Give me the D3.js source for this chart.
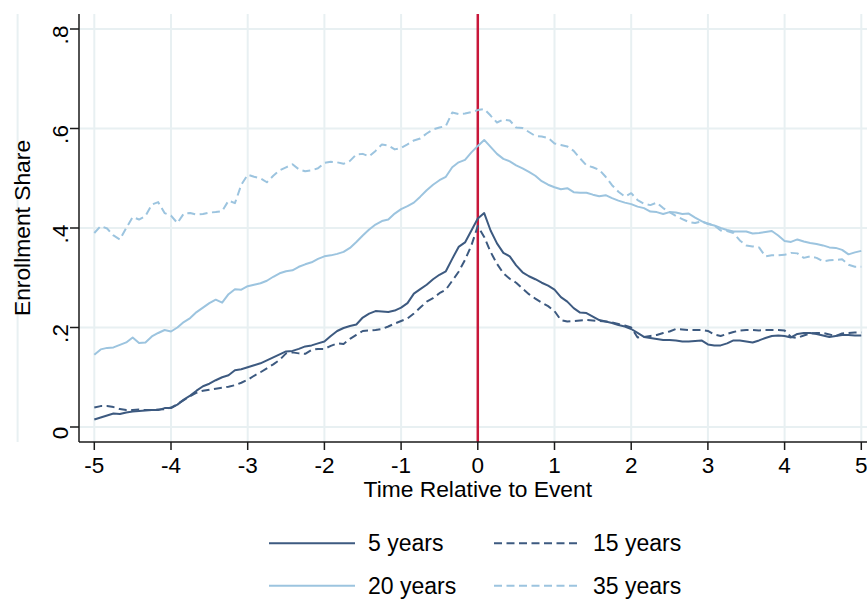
<!DOCTYPE html>
<html lang="en">
    <head>
        <meta charset="UTF-8">
        <title>Enrollment Share</title>
        <style>
            body { margin: 0; background: #fff; }
            text { font-family: "Liberation Sans", Arial, sans-serif; fill: #000; }
            .grid { stroke: #e8f0f2; stroke-width: 2; }
            .axis { stroke: #1a1a1a; stroke-width: 1.5; }
        </style>
    </head>
    <body>
        <div id="chart"></div>
        <script src="https://d3js.org/d3.v7.min.js"></script>
        <script>
            // months relative to the event, -60 .. 60
            const months = d3.range(-60, 61);

            const xTicks = [-5, -4, -3, -2, -1, 0, 1, 2, 3, 4, 5];
            const yTicks = [0, 0.2, 0.4, 0.6, 0.8];
            const yTickLabels = ["0", ".2", ".4", ".6", ".8"];
            const xGrid = [-6, -5, -4, -3, -2, -1, 1, 2, 3, 4, 5];

            const years5 = [
                0.015, 0.019, 0.023, 0.027, 0.026, 0.029, 0.031, 0.032, 0.033, 0.034, 0.034, 0.038,
                0.038, 0.045, 0.055, 0.063, 0.073, 0.082, 0.087, 0.094, 0.100, 0.104, 0.114, 0.116,
                0.120, 0.124, 0.128, 0.134, 0.140, 0.146, 0.152, 0.153, 0.157, 0.162, 0.164, 0.168,
                0.172, 0.183, 0.193, 0.199, 0.203, 0.206, 0.220, 0.228, 0.233, 0.232, 0.231, 0.234,
                0.240, 0.249, 0.268, 0.277, 0.286, 0.297, 0.306, 0.313, 0.338, 0.362, 0.371, 0.395,
                0.419, 0.430, 0.395, 0.369, 0.350, 0.343, 0.325, 0.311, 0.303, 0.297, 0.290, 0.284,
                0.276, 0.261, 0.252, 0.239, 0.230, 0.229, 0.222, 0.215, 0.212, 0.209, 0.205, 0.202,
                0.197, 0.189, 0.181, 0.179, 0.177, 0.175, 0.175, 0.174, 0.172, 0.172, 0.173, 0.174,
                0.166, 0.164, 0.164, 0.168, 0.174, 0.174, 0.172, 0.170, 0.174, 0.179, 0.183, 0.184,
                0.183, 0.180, 0.187, 0.189, 0.189, 0.187, 0.184, 0.181, 0.183, 0.185, 0.185, 0.184,
                0.184
            ];
            const years15 = [
                0.039, 0.042, 0.042, 0.040, 0.036, 0.034, 0.034, 0.035, 0.034, 0.034, 0.035, 0.036,
                0.039, 0.046, 0.054, 0.062, 0.069, 0.073, 0.075, 0.077, 0.079, 0.081, 0.084, 0.089,
                0.095, 0.103, 0.110, 0.118, 0.126, 0.135, 0.148, 0.150, 0.148, 0.147, 0.155, 0.157,
                0.157, 0.163, 0.168, 0.167, 0.177, 0.185, 0.193, 0.194, 0.195, 0.197, 0.202, 0.208,
                0.213, 0.218, 0.228, 0.240, 0.252, 0.259, 0.269, 0.276, 0.294, 0.312, 0.336, 0.365,
                0.404, 0.382, 0.352, 0.328, 0.309, 0.298, 0.290, 0.278, 0.267, 0.258, 0.250, 0.243,
                0.233, 0.215, 0.212, 0.213, 0.214, 0.215, 0.214, 0.213, 0.212, 0.210, 0.207, 0.204,
                0.200, 0.180, 0.181, 0.183, 0.185, 0.189, 0.192, 0.197, 0.196, 0.195, 0.195, 0.195,
                0.193, 0.186, 0.183, 0.187, 0.191, 0.194, 0.195, 0.195, 0.194, 0.195, 0.195, 0.195,
                0.194, 0.181, 0.179, 0.184, 0.188, 0.189, 0.189, 0.186, 0.183, 0.188, 0.189, 0.190,
                0.190
            ];
            const years20 = [
                0.145, 0.156, 0.159, 0.160, 0.165, 0.170, 0.180, 0.169, 0.170, 0.182, 0.189, 0.195,
                0.192, 0.200, 0.211, 0.219, 0.231, 0.240, 0.249, 0.256, 0.250, 0.267, 0.277, 0.276,
                0.283, 0.286, 0.289, 0.294, 0.302, 0.309, 0.313, 0.315, 0.322, 0.327, 0.331, 0.338,
                0.343, 0.345, 0.348, 0.352, 0.360, 0.372, 0.385, 0.397, 0.407, 0.414, 0.417, 0.429,
                0.438, 0.444, 0.451, 0.463, 0.476, 0.487, 0.496, 0.503, 0.522, 0.532, 0.537, 0.552,
                0.565, 0.577, 0.563, 0.549, 0.539, 0.534, 0.526, 0.520, 0.513, 0.505, 0.494, 0.487,
                0.482, 0.478, 0.480, 0.472, 0.471, 0.471, 0.467, 0.464, 0.466, 0.460, 0.455, 0.451,
                0.448, 0.443, 0.440, 0.433, 0.432, 0.428, 0.432, 0.431, 0.428, 0.429, 0.421, 0.414,
                0.408, 0.405, 0.400, 0.396, 0.393, 0.393, 0.393, 0.389, 0.390, 0.392, 0.394, 0.385,
                0.374, 0.372, 0.377, 0.373, 0.370, 0.368, 0.365, 0.361, 0.360, 0.356, 0.347, 0.351,
                0.354
            ];
            const years35 = [
                0.390, 0.404, 0.399, 0.385, 0.377, 0.400, 0.422, 0.417, 0.424, 0.447, 0.452, 0.430,
                0.425, 0.410, 0.429, 0.430, 0.427, 0.428, 0.431, 0.432, 0.434, 0.455, 0.450, 0.487,
                0.507, 0.503, 0.500, 0.492, 0.505, 0.516, 0.522, 0.528, 0.518, 0.514, 0.516, 0.520,
                0.531, 0.533, 0.532, 0.529, 0.535, 0.548, 0.549, 0.544, 0.555, 0.568, 0.566, 0.558,
                0.561, 0.568, 0.576, 0.580, 0.590, 0.598, 0.602, 0.605, 0.632, 0.629, 0.630, 0.633,
                0.637, 0.639, 0.626, 0.612, 0.618, 0.616, 0.602, 0.601, 0.593, 0.585, 0.584, 0.581,
                0.570, 0.567, 0.564, 0.555, 0.540, 0.526, 0.522, 0.517, 0.503, 0.486, 0.473, 0.463,
                0.470, 0.456, 0.449, 0.446, 0.451, 0.440, 0.432, 0.424, 0.418, 0.412, 0.410, 0.413,
                0.409, 0.405, 0.395, 0.394, 0.390, 0.375, 0.365, 0.363, 0.361, 0.343, 0.345, 0.345,
                0.346, 0.350, 0.349, 0.340, 0.343, 0.340, 0.333, 0.335, 0.336, 0.337, 0.326, 0.322,
                0.322
            ];

            const seriesNames = ["5 years", "15 years", "20 years", "35 years"];
            const seriesValues = [years5, years15, years20, years35];
            const seriesColors = ["#3d5a80", "#3d5a80", "#9cc4df", "#9cc4df"];
            const seriesDashed = [false, true, false, true];

            const width = 867, height = 599;
            const plotTop = 14, plotBottom = 442, plotLeft = 79;

            const svg = d3.select("#chart").append("svg")
                .attr("width", width)
                .attr("height", height);

            const x = d3.scaleLinear().domain([-5, 5]).range([94.3, 861.3]);
            const y = d3.scaleLinear().domain([0, 0.8]).range([427, 29]);

            // grid
            svg.append("g")
                .selectAll("line")
                .data(yTicks)
                .enter().append("line")
                .attr("class", "grid")
                .attr("x1", plotLeft).attr("x2", width)
                .attr("y1", d => y(d)).attr("y2", d => y(d));

            svg.append("g")
                .selectAll("line")
                .data(xGrid)
                .enter().append("line")
                .attr("class", "grid")
                .attr("x1", d => x(d)).attr("x2", d => x(d))
                .attr("y1", plotTop).attr("y2", plotBottom);

            // event line
            svg.append("line")
                .attr("x1", x(0)).attr("x2", x(0))
                .attr("y1", plotTop).attr("y2", plotBottom)
                .attr("stroke", "#c8173a")
                .attr("stroke-width", 2.5);

            // series
            const line = d3.line()
                .x((d, i) => x(months[i] / 12))
                .y(d => y(d));

            seriesValues.forEach((vals, i) => {
                svg.append("path")
                    .datum(vals)
                    .attr("d", line)
                    .attr("fill", "none")
                    .attr("stroke", seriesColors[i])
                    .attr("stroke-width", 2)
                    .attr("stroke-linejoin", "round")
                    .attr("stroke-dasharray", seriesDashed[i] ? "8,4.5" : null);
            });

            // axes
            svg.append("line").attr("class", "axis")
                .attr("x1", plotLeft).attr("x2", plotLeft)
                .attr("y1", plotTop).attr("y2", plotBottom);
            svg.append("line").attr("class", "axis")
                .attr("x1", plotLeft).attr("x2", width)
                .attr("y1", plotBottom).attr("y2", plotBottom);

            svg.append("g")
                .selectAll("line")
                .data(yTicks)
                .enter().append("line")
                .attr("class", "axis")
                .attr("x1", plotLeft - 9).attr("x2", plotLeft)
                .attr("y1", d => y(d)).attr("y2", d => y(d));

            svg.append("g")
                .selectAll("text")
                .data(yTicks)
                .enter().append("text")
                .attr("transform", d => `translate(68,${y(d) + 6}) rotate(-90)`)
                .attr("text-anchor", "middle")
                .style("font-size", "22.5px")
                .text((d, i) => yTickLabels[i]);

            svg.append("g")
                .selectAll("line")
                .data(xTicks)
                .enter().append("line")
                .attr("class", "axis")
                .attr("x1", d => x(d)).attr("x2", d => x(d))
                .attr("y1", plotBottom).attr("y2", plotBottom + 8);

            svg.append("g")
                .selectAll("text")
                .data(xTicks)
                .enter().append("text")
                .attr("x", d => x(d))
                .attr("y", 473)
                .attr("text-anchor", "middle")
                .style("font-size", "22.5px")
                .text(d => d);

            // axis titles
            svg.append("text")
                .attr("x", x(0))
                .attr("y", 497)
                .attr("text-anchor", "middle")
                .style("font-size", "22.8px")
                .text("Time Relative to Event");

            svg.append("text")
                .attr("transform", `translate(30,${(plotTop + plotBottom) / 2}) rotate(-90)`)
                .attr("text-anchor", "middle")
                .style("font-size", "22.8px")
                .text("Enrollment Share");

            // legend, two columns
            const legendCols = [269, 494];
            const legendRows = [543.3, 585.7];
            const legend = svg.append("g")
                .selectAll("g")
                .data(seriesNames)
                .enter().append("g")
                .attr("transform", (d, i) => `translate(${legendCols[i % 2]},${legendRows[Math.floor(i / 2)]})`);

            legend.append("line")
                .attr("x1", 0).attr("x2", 86)
                .attr("y1", 0).attr("y2", 0)
                .attr("stroke", (d, i) => seriesColors[i])
                .attr("stroke-width", 2)
                .attr("stroke-dasharray", (d, i) => seriesDashed[i] ? "8,4.5" : null);

            legend.append("text")
                .attr("x", 99)
                .attr("y", 8)
                .style("font-size", "23px")
                .text(d => d);
        </script>
    </body>
</html>
